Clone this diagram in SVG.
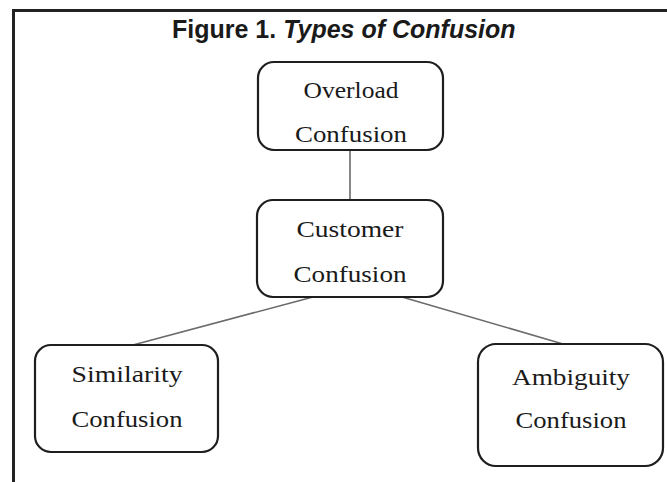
<svg xmlns="http://www.w3.org/2000/svg" width="667" height="482" viewBox="0 0 667 482">
<style>
.box{fill:#fff;stroke:#1e1e1e;stroke-width:2.2}
.lbl{font-family:"Liberation Serif","Times New Roman",serif;font-size:24px;fill:#1a1a1a;text-anchor:middle}
.conn{stroke:#6a6a6a;stroke-width:1.6;fill:none}
.frame{stroke:#222;stroke-width:3;fill:none}
.ttl{font-family:"Liberation Sans",Arial,sans-serif;font-size:25px;font-weight:bold;fill:#1a1a1a}
</style>
<rect width="667" height="482" fill="#fff"/>
<path class="frame" d="M13.5 482 V10.5 H667"/>
<text class="ttl" x="172" y="38">Figure 1. <tspan font-style="italic">Types of Confusion</tspan></text>
<g id="connectors">
<line class="conn" x1="350" y1="150" x2="350" y2="200"/>
<line class="conn" x1="313" y1="297" x2="133" y2="345"/>
<line class="conn" x1="402" y1="297" x2="563" y2="344"/>
</g>
<g id="overload">
<rect class="box" x="258" y="62" width="185" height="88" rx="16"/>
<text class="lbl" x="351" y="98" textLength="95" lengthAdjust="spacingAndGlyphs">Overload</text>
<text class="lbl" x="351" y="142" textLength="112" lengthAdjust="spacingAndGlyphs">Confusion</text>
</g>
<g id="customer">
<rect class="box" x="257" y="200" width="186" height="97" rx="16"/>
<text class="lbl" x="350" y="237" textLength="107" lengthAdjust="spacingAndGlyphs">Customer</text>
<text class="lbl" x="350" y="282" textLength="113" lengthAdjust="spacingAndGlyphs">Confusion</text>
</g>
<g id="similarity">
<rect class="box" x="35" y="345" width="183" height="107" rx="16"/>
<text class="lbl" x="127" y="382" textLength="111" lengthAdjust="spacingAndGlyphs">Similarity</text>
<text class="lbl" x="127" y="427" textLength="111" lengthAdjust="spacingAndGlyphs">Confusion</text>
</g>
<g id="ambiguity">
<rect class="box" x="478" y="344" width="185" height="122" rx="18"/>
<text class="lbl" x="571" y="385" textLength="118" lengthAdjust="spacingAndGlyphs">Ambiguity</text>
<text class="lbl" x="571" y="428" textLength="111" lengthAdjust="spacingAndGlyphs">Confusion</text>
</g>
</svg>
